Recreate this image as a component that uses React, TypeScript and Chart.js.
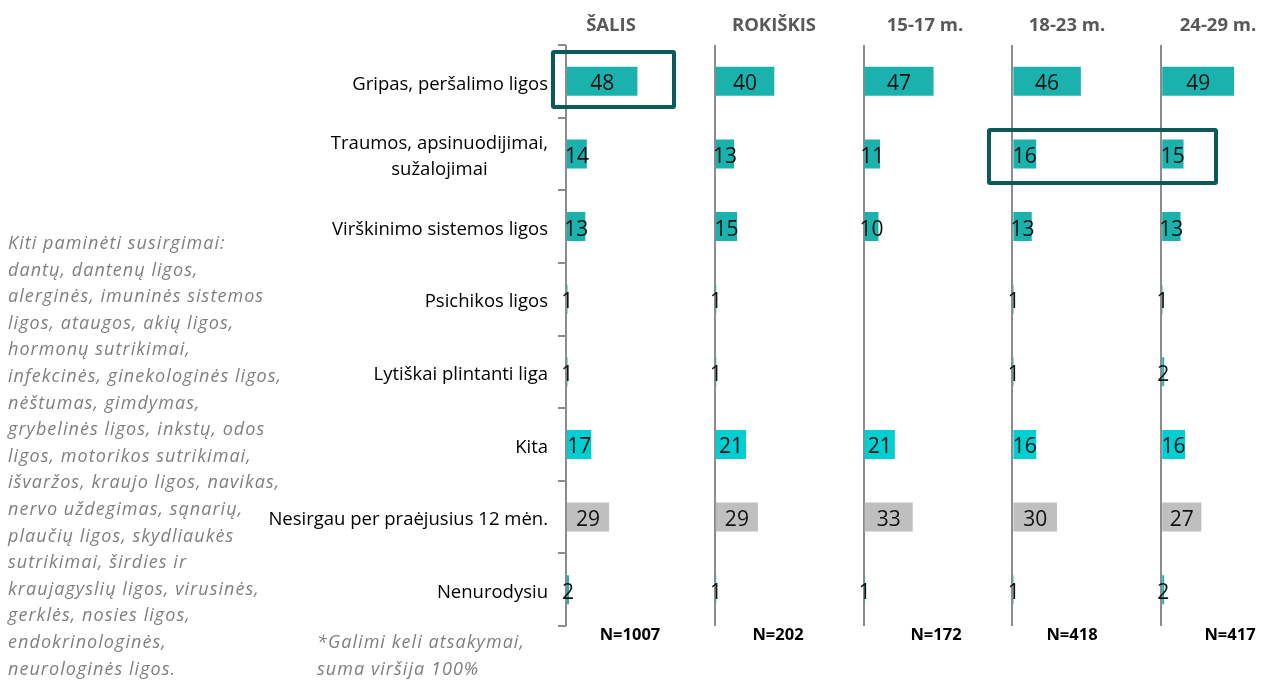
import React, { useEffect, useRef } from "react";
import { Chart, registerables } from "chart.js";

Chart.register(...registerables);

// ---------- data ----------
const categories: (string | string[])[] = [
  "Gripas, peršalimo ligos",
  ["Traumos, apsinuodijimai,", "sužalojimai"],
  "Virškinimo sistemos ligos",
  "Psichikos ligos",
  "Lytiškai plintanti liga",
  "Kita",
  "Nesirgau per praėjusius 12 mėn.",
  "Nenurodysiu",
];
const panelTitles = ["ŠALIS", "ROKIŠKIS", "15-17 m.", "18-23 m.", "24-29 m."];
const sampleSizes = ["N=1007", "N=202", "N=172", "N=418", "N=417"];
const salis = [48, 14, 13, 1, 1, 17, 29, 2];
const rokiskis = [40, 13, 15, 1, 1, 21, 29, 1];
const age1517 = [47, 11, 10, null, null, 21, 33, 1];
const age1823 = [46, 16, 13, 1, 1, 16, 30, 1];
const age2429 = [49, 15, 13, 1, 2, 16, 27, 2];
const seriesValues = [salis, rokiskis, age1517, age1823, age2429];

const otherIllnesses = [
  "Kiti paminėti susirgimai:",
  "dantų, dantenų ligos,",
  "alerginės, imuninės sistemos",
  "ligos, ataugos, akių ligos,",
  "hormonų sutrikimai,",
  "infekcinės, ginekologinės ligos,",
  "nėštumas, gimdymas,",
  "grybelinės ligos, inkstų, odos",
  "ligos, motorikos sutrikimai,",
  "išvaržos, kraujo ligos, navikas,",
  "nervo uždegimas, sąnarių,",
  "plaučių ligos, skydliaukės",
  "sutrikimai, širdies ir",
  "kraujagyslių ligos, virusinės,",
  "gerklės, nosies ligos,",
  "endokrinologinės,",
  "neurologinės ligos.",
];
const footnote = ["*Galimi keli atsakymai,", "suma viršija 100%"];

// ---------- styles / layout ----------
const TEAL = "#1BB1AD";
const CYAN = "#00CED1";
const GREY_BAR = "#BFBFBF";
const AXIS_GREY = "#8C8C8C";
const BOX = "#0B5A5A";
const categoryColors = [TEAL, TEAL, TEAL, TEAL, TEAL, CYAN, GREY_BAR, TEAL];
const titleCenters = [611, 774, 925, 1067, 1218];
const sizeCenters = [630, 778, 936, 1072, 1230];
const FONT = '"Open Sans", "Noto Sans", sans-serif';

const labelsPlugin = {
  id: "labelsPlugin",
  afterDatasetsDraw(chart: any) {
    const ctx = chart.ctx;
    ctx.save();
    // value labels
    ctx.font = `21px ${FONT}`;
    ctx.fillStyle = "#111111";
    ctx.textAlign = "center";
    ctx.textBaseline = "middle";
    chart.data.datasets.forEach((ds: any, di: number) => {
      const meta = chart.getDatasetMeta(di);
      meta.data.forEach((el: any, i: number) => {
        const v = ds.data[i];
        if (v === null || v === undefined) return;
        const p = el.getProps(["x", "y", "base"], true);
        ctx.fillText(String(v), (p.x + p.base) / 2, p.y + 3);
      });
    });
    // category labels
    const yScale = chart.scales.y;
    ctx.font = `18.5px ${FONT}`;
    ctx.fillStyle = "#000000";
    const right = yScale.right - 18;
    categories.forEach((lab, i) => {
      const lines = Array.isArray(lab) ? lab : [lab];
      const y = yScale.getPixelForValue(i);
      const maxW = Math.max(...lines.map((l) => ctx.measureText(l).width));
      const cx = right - maxW / 2;
      lines.forEach((l, k) => {
        ctx.fillText(l, cx, y + 3 + (k - (lines.length - 1) / 2) * 26);
      });
    });
    ctx.restore();
  },
};

export default function App() {
  const canvasRef = useRef<HTMLCanvasElement | null>(null);

  useEffect(() => {
    const canvas = canvasRef.current;
    if (!canvas) return;
    const xScales: any = {};
    panelTitles.forEach((_, i) => {
      xScales["x" + i] = {
        type: "linear",
        position: "bottom",
        stack: "panels",
        stackWeight: 1,
        min: 0,
        max: 100,
        ticks: { display: false, stepSize: 100 },
        grid: {
          drawTicks: false,
          lineWidth: 2,
          color: (c: any) => (c.tick && c.tick.value === 0 ? AXIS_GREY : "rgba(0,0,0,0)"),
        },
        border: { display: false },
        afterFit: (s: any) => {
          s.height = 0;
        },
      };
    });

    const chart = new Chart(canvas, {
      type: "bar",
      data: {
        labels: categories as any,
        datasets: seriesValues.map((vals, i) => ({
          data: vals as any,
          xAxisID: "x" + i,
          yAxisID: "y",
          grouped: false,
          backgroundColor: categoryColors.map((c, k) => (i === 1 && k === 7 ? CYAN : c)),
          borderWidth: 0,
          barPercentage: 0.4,
          categoryPercentage: 1,
        })),
      },
      options: {
        indexAxis: "y",
        animation: false,
        responsive: false,
        maintainAspectRatio: false,
        layout: { padding: { top: 45, bottom: 55, left: 0, right: 0 } },
        plugins: { legend: { display: false }, tooltip: { enabled: false } },
        scales: {
          y: {
            type: "category",
            position: "left",
            offset: true,
            ticks: { display: false },
            grid: {
              display: true,
              drawOnChartArea: false,
              drawTicks: true,
              tickLength: 8,
              offset: true,
              lineWidth: 2,
              color: AXIS_GREY,
            },
            border: { display: false },
            afterFit: (s: any) => {
              s.width = 566;
            },
          },
          ...xScales,
        },
      } as any,
      plugins: [labelsPlugin],
    });
    return () => chart.destroy();
  }, []);

  const abs = (extra: any) => ({ position: "absolute" as const, ...extra });

  return (
    <div
      style={{
        position: "absolute",
        left: 0,
        top: 0,
        width: 1261,
        height: 681,
        overflow: "hidden",
        background: "#ffffff",
        fontFamily: FONT,
      }}
    >
      <canvas ref={canvasRef} width={1310} height={681} style={abs({ left: 0, top: 0 })} />
      {panelTitles.map((t, i) => (
        <div
          key={t}
          style={abs({
            left: titleCenters[i] - 100,
            top: 11,
            width: 200,
            lineHeight: "26px",
            textAlign: "center",
            fontWeight: 700,
            fontSize: 18.5,
            color: "#595959",
          })}
        >
          {t}
        </div>
      ))}
      {sampleSizes.map((t, i) => (
        <div
          key={t}
          style={abs({
            left: sizeCenters[i] - 100,
            top: 621,
            width: 200,
            lineHeight: "26px",
            textAlign: "center",
            fontWeight: 700,
            fontSize: 16.5,
            color: "#000000",
          })}
        >
          {t}
        </div>
      ))}
      <div
        style={abs({
          left: 8,
          top: 229,
          fontStyle: "italic",
          fontSize: 18,
          lineHeight: "26.6px",
          letterSpacing: "1.05px",
          color: "#7F7F7F",
          whiteSpace: "nowrap",
        })}
      >
        {otherIllnesses.map((l) => (
          <div key={l}>{l}</div>
        ))}
      </div>
      <div
        style={abs({
          left: 317,
          top: 628,
          fontStyle: "italic",
          fontSize: 18,
          lineHeight: "27px",
          letterSpacing: "1.05px",
          color: "#7F7F7F",
          whiteSpace: "nowrap",
        })}
      >
        {footnote.map((l) => (
          <div key={l}>{l}</div>
        ))}
      </div>
      <div
        style={abs({
          left: 551,
          top: 50,
          width: 125,
          height: 59,
          border: `4px solid ${BOX}`,
          borderRadius: 3,
          boxSizing: "border-box",
        })}
      />
      <div
        style={abs({
          left: 987,
          top: 128,
          width: 231,
          height: 57,
          border: `4px solid ${BOX}`,
          borderRadius: 3,
          boxSizing: "border-box",
        })}
      />
    </div>
  );
}
